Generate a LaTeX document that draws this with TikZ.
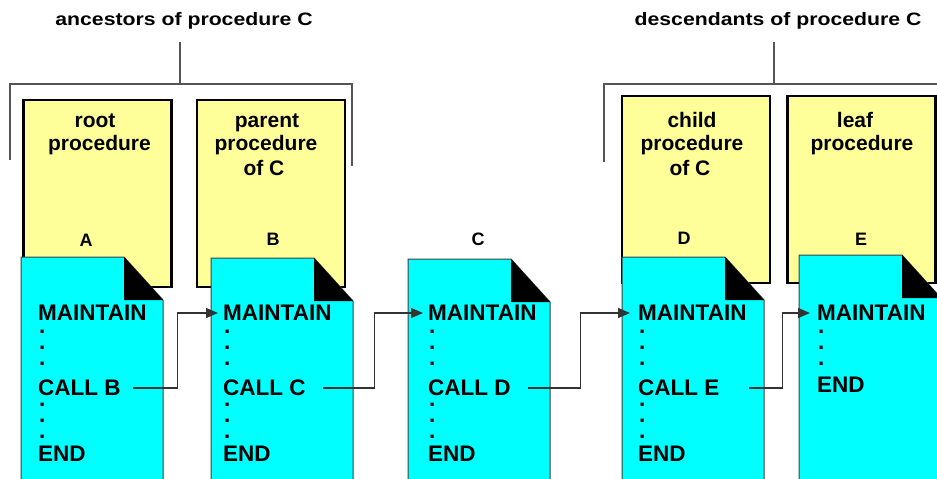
\documentclass[tikz,border=0pt]{standalone}
\usepackage{fontspec}
\setmainfont{Liberation Sans}
\usetikzlibrary{arrows.meta}
\definecolor{boxyellow}{HTML}{FFFF99}
\definecolor{doccyan}{HTML}{00FFFF}
\definecolor{brgray}{HTML}{555555}
\begin{document}
\begin{tikzpicture}[x=1pt,y=-1pt,
  ybox/.style={draw=black,line width=2.5pt,fill=boxyellow,minimum width=148pt,minimum height=187pt,inner sep=0},
  ytext/.style={font=\bfseries\fontsize{21}{23}\selectfont,inner sep=0,anchor=base},
  letter/.style={font=\bfseries\fontsize{18}{20}\selectfont,inner sep=0,anchor=base},
  code/.style={font=\bfseries\fontsize{22.5}{24}\selectfont,inner sep=0,anchor=west},
  dots/.style={font=\bfseries\fontsize{22.5}{16}\selectfont,inner sep=0,align=left,anchor=west},
  hdr/.style={font=\bfseries\fontsize{18}{20}\selectfont,inner sep=0,anchor=base},
  bracket/.style={draw=brgray,line width=2pt},
  conn/.style={draw=black!80,line width=1.3pt,-{Triangle[length=12pt,width=10pt]}},
  docbody/.style={fill=doccyan,draw=black!75,line width=1pt},
  fold/.style={fill=black}
]
\useasboundingbox (0,0) rectangle (937,479);
\clip (0,0) rectangle (937,479);

% headers and brackets
\node[hdr] (hAnc) at (184,25) {\scalebox{1.18}[1]{ancestors of procedure C}};
\node[hdr] (hDes) at (778,25) {\scalebox{1.18}[1]{descendants of procedure C}};
\draw[bracket] (10,160) -- (10,84) -- (352,84) -- (352,166);
\draw[bracket] (180,84) -- (180,42);
\draw[bracket] (604,162) -- (604,84) -- (950,84);
\draw[bracket] (774,84) -- (774,42);

% yellow boxes
\node[ybox] (bA) at (97.5,193.5) {};
\node[ybox] (bB) at (271,193.5) {};
\node[ybox] (bD) at (696,189.5) {};
\node[ybox] (bE) at (861.5,189.5) {};

\node[ytext] (tA1) at (95,127) {root};
\node[ytext] (tA2) at (99.5,150) {procedure};
\node[ytext] (tB1) at (267,127) {parent};
\node[ytext] (tB2) at (266,150) {procedure};
\node[ytext] (tB3) at (264,175) {of C};
\node[ytext] (tD1) at (692,127) {child};
\node[ytext] (tD2) at (692,150) {procedure};
\node[ytext] (tD3) at (690,175) {of C};
\node[ytext] (tE1) at (855,127) {leaf};
\node[ytext] (tE2) at (862,150) {procedure};

\node[letter] (lA) at (86,246) {A};
\node[letter] (lB) at (273,245) {B};
\node[letter] (lC) at (478,245) {C};
\node[letter] (lD) at (684,244) {D};
\node[letter] (lE) at (861,245) {E};

% documents
\foreach \l/\t in {21/257, 211/258, 408/259, 622/257, 799/255} {
  \path[docbody] (\l,495) -- (\l,\t) -- ({\l+103},\t) -- ({\l+142},{\t+43}) -- ({\l+142},495) -- cycle;
  \fill[fold] ({\l+103},\t) -- ({\l+103},{\t+43}) -- ({\l+142},{\t+43}) -- cycle;
}

% code text
\foreach \n/\x/\c in {A/38/CALL B, B/223/CALL C, C/428/CALL D, D/638/CALL E} {
  \node[code] (m\n) at (\x,313) {MAINTAIN};
  \node[dots] (da\n) at ({\x+1},348) {.\\.\\.};
  \node[code] (c\n) at (\x,388) {\c};
  \node[dots] (db\n) at ({\x+1},421) {.\\.\\.};
  \node[code] (e\n) at (\x,454) {END};
}
\node[code] (mE) at (817,313) {MAINTAIN};
\node[dots] (daE) at (818,348) {.\\.\\.};
\node[code] (eE) at (817,385) {END};

% connectors
\draw[conn] ([xshift=12.5pt]cA.east) -- ++(44,0) |- ([xshift=-5pt]mB.west);
\draw[conn] ([xshift=17.5pt]cB.east) -- ++(51,0) |- ([xshift=-5pt]mC.west);
\draw[conn] ([xshift=17.5pt]cC.east) -- ++(52,0) |- ([xshift=-8pt]mD.west);
\draw[conn] ([xshift=29pt]cD.east) -- ++(34,0) |- ([xshift=-7pt]mE.west);
\end{tikzpicture}
\end{document}
